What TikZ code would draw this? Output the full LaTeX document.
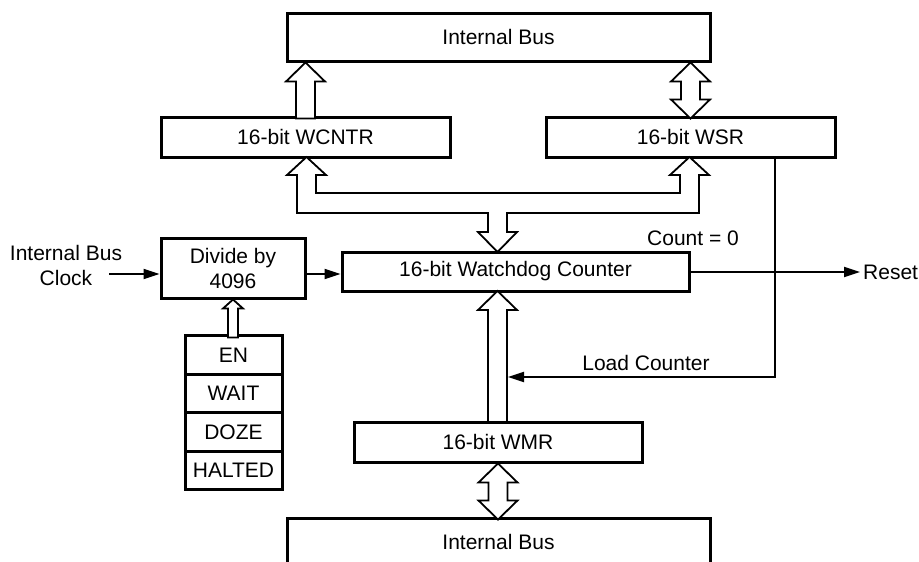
\documentclass[tikz,border=0pt]{standalone}
\usepackage{fontspec}
\setmainfont{Liberation Sans}
\usetikzlibrary{arrows.meta}

% hollow bus arrows: tip, length, head half width, shaft half width, head length
\newcommand{\fatup}[5]{%
  \draw[hollow] #1 -- ++(#3,#5) -- ++(-#3+#4,0) -- ++(0,#2-#5) -- ++(-2*#4,0)
    -- ++(0,-#2+#5) -- ++(-#3+#4,0) -- cycle;}
\newcommand{\fatboth}[4]{%
  \draw[hollow] #1 -- ++(#3,19) -- ++(-#3+#4,0) -- ++(0,#2-38) -- ++(#3-#4,0)
    -- ++(-#3,19) -- ++(-#3,-19) -- ++(#3-#4,0) -- ++(0,-#2+38) -- ++(-#3+#4,0) -- cycle;}

\begin{document}
\begin{tikzpicture}[
    x=1pt, y=-1pt,
    every node/.style={font=\fontsize{21}{25}\selectfont},
    box/.style={
        rectangle,
        draw,
        line width=3pt,
        minimum height=40pt,
        inner sep=0pt,
        align=center
    },
    cell/.style={box, minimum width=97pt, minimum height=38.5pt},
    hollow/.style={draw, fill=white, line width=1.8pt, line join=miter},
    arrow/.style={->, >={Triangle[length=16pt,width=10pt]}, line width=1.8pt}
]
\useasboundingbox (0,0) rectangle (919,562);

\node[box, minimum width=423pt, minimum height=48pt] (bus) at (498.5,37) {Internal Bus};
\node[box, minimum width=289pt] (wcntr) at (305.5,137) {16-bit WCNTR};
\node[box, minimum width=289pt] (wsr) at (690.5,137) {16-bit WSR};
\node[box, minimum width=347pt, minimum height=39pt] (counter) at (515.5,271.5) {16-bit Watchdog Counter};
\node[box, minimum width=144pt, minimum height=60pt] (divide) at (233,268) {Divide by\\4096};
\node[cell] (en) at (233.5,355) {EN};
\node[cell] (wait) at (233.5,393.5) {WAIT};
\node[cell] (doze) at (233.5,432) {DOZE};
\node[cell] (halted) at (233.5,470.5) {HALTED};
\node[box, minimum width=288pt] (wmr) at (498,442) {16-bit WMR};
\node[box, minimum width=423pt, minimum height=48pt] (bus2) at (498.5,542) {Internal Bus};

\node[align=center] (clk) at (66,265) {Internal Bus\\Clock};
\node (count) at (693,238) {Count = 0};
\node[anchor=west, inner sep=3pt] (reset) at (860,272) {Reset};
\node (load) at (646,363) {Load Counter};

\coordinate (clkin) at (109,274);
\coordinate (ldin) at (508,377);

% bus arrows
\fatup{(wcntr.north |- bus.south)}{56}{19.5}{9.5}{19}
\fatboth{(wsr.north |- bus.south)}{56}{19.5}{9.5}
\fatboth{(wmr.south)}{56}{19.5}{9.5}
\fatup{(497.5,291)}{131}{19.5}{9.5}{19}
\fatup{(divide.south |- divide.south)}{38}{10}{5}{9}

% counter to WCNTR and WSR
\draw[hollow] (497.5,252) -- (517,232) -- (507,232) -- (507,213) -- (699,213)
    -- (699,175) -- (709,175) -- (689.5,157) -- (670,175) -- (680,175) -- (680,193)
    -- (316,193) -- (316,175) -- (326,175) -- (306.5,157) -- (287,175) -- (297,175)
    -- (297,213) -- (488,213) -- (488,232) -- (478,232) -- cycle;

\draw[arrow] (clkin) -- (clkin -| divide.west);
\draw[arrow] (divide.east |- clkin) -- (counter.west |- clkin);
\draw[arrow] (counter.east |- reset.west) -- (reset.west);
\draw[arrow] ([xshift=84.5pt]wsr.south) |- (ldin);

\end{tikzpicture}
\end{document}
